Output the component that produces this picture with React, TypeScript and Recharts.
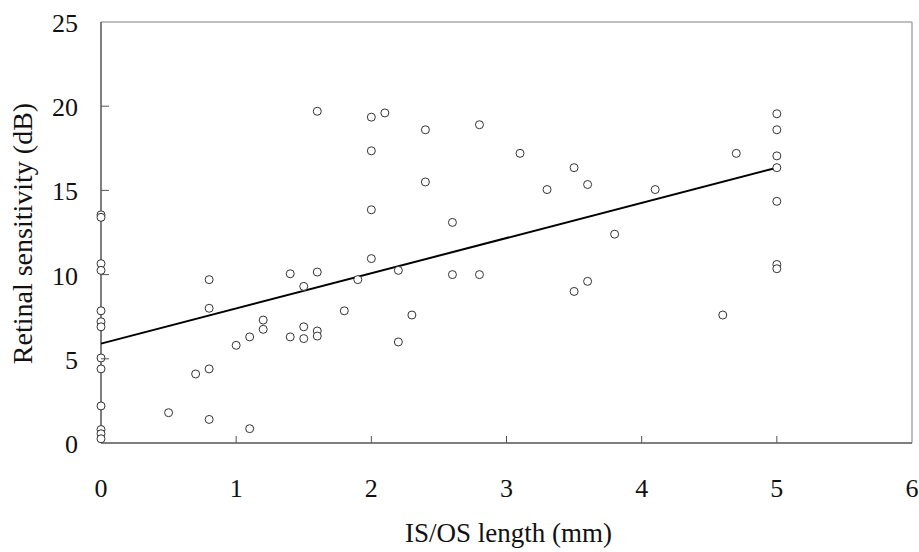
import { ScatterChart, Scatter, XAxis, YAxis, ReferenceLine, Label } from 'recharts';

const isosLength = [
  0, 0, 0, 0, 0, 0, 0, 0, 0, 0, 0, 0, 0,
  0.5, 0.7, 0.8, 0.8, 0.8, 0.8, 1.0, 1.1, 1.1, 1.2, 1.2,
  1.4, 1.4, 1.5, 1.5, 1.5, 1.6, 1.6, 1.6, 1.6, 1.8, 1.9,
  2.0, 2.0, 2.0, 2.0, 2.1, 2.2, 2.2, 2.3, 2.4, 2.4, 2.6, 2.6, 2.8, 2.8,
  3.1, 3.3, 3.5, 3.5, 3.6, 3.6, 3.8, 4.1, 4.6, 4.7,
  5, 5, 5, 5, 5, 5, 5,
];

const sensitivity = [
  13.55, 13.4, 10.65, 10.25, 7.85, 7.2, 6.9, 5.05, 4.4, 2.2, 0.8, 0.55, 0.25,
  1.8, 4.1, 9.7, 8.0, 4.4, 1.4, 5.8, 6.3, 0.85, 7.3, 6.75,
  10.05, 6.3, 9.3, 6.9, 6.2, 19.7, 10.15, 6.65, 6.35, 7.85, 9.7,
  19.35, 17.35, 13.85, 10.95, 19.6, 10.25, 6.0, 7.6, 18.6, 15.5, 13.1, 10.0, 18.9, 10.0,
  17.2, 15.05, 16.35, 9.0, 15.35, 9.6, 12.4, 15.05, 7.6, 17.2,
  19.55, 18.6, 17.05, 16.35, 14.35, 10.6, 10.35,
];

// regression line end points
const fitX = [0, 5];
const fitY = [5.9, 16.35];

const xTicks = [0, 1, 2, 3, 4, 5, 6];
const yTicks = [0, 5, 10, 15, 20, 25];

const points = isosLength.map((x, i) => ({ x, y: sensitivity[i] }));
const fitLine = fitX.map((x, i) => ({ x, y: fitY[i] }));

const FONT = '"Liberation Serif", "Times New Roman", serif';

// inward tick marks, labels well below the axis
const XTick = (props: any) => {
  const { x, y, payload } = props;
  return (
    <g>
      {payload.value > 0 && payload.value < 6 && (
        <line x1={x} x2={x} y1={y} y2={y - 7} stroke="#555" strokeWidth={1} />
      )}
      <text x={x} y={y + 54} textAnchor="middle" fontFamily={FONT} fontSize={26} fill="#111">
        {payload.value}
      </text>
    </g>
  );
};

const YTick = (props: any) => {
  const { x, y, payload } = props;
  return (
    <g>
      {payload.value > 0 && payload.value < 25 && (
        <line x1={x} x2={x + 8} y1={y} y2={y} stroke="#555" strokeWidth={1} />
      )}
      <text x={x - 23} y={y + 10} textAnchor="end" fontFamily={FONT} fontSize={26} fill="#111">
        {payload.value}
      </text>
    </g>
  );
};

const Circle = (props: any) => {
  const { cx, cy } = props;
  return <circle cx={cx} cy={cy} r={4} fill="#fff" stroke="#333" strokeWidth={1} />;
};

const XTitle = (props: any) => {
  const vb = props.viewBox;
  return (
    <text x={vb.x + vb.width / 2 + 2} y={vb.y + 99} textAnchor="middle" fontFamily={FONT} fontSize={27} fill="#111">
      IS/OS length (mm)
    </text>
  );
};

const YTitle = (props: any) => {
  const vb = props.viewBox;
  const cx = 32;
  const cy = vb.y + vb.height / 2 + 1;
  return (
    <text x={cx} y={cy} transform={`rotate(-90, ${cx}, ${cy})`} textAnchor="middle" fontFamily={FONT} fontSize={28} fill="#111">
      Retinal sensitivity (dB)
    </text>
  );
};

export default function App() {
  return (
    <div style={{ position: 'absolute', left: 0, top: 0, width: 919, height: 552, background: '#fff' }}>
      <ScatterChart width={919} height={552} margin={{ top: 22, right: 7, left: 0, bottom: 0 }}>
        <XAxis
          type="number"
          dataKey="x"
          domain={[0, 6]}
          ticks={xTicks}
          interval={0}
          height={109}
          tickSize={0}
          tickMargin={0}
          tickLine={false}
          tick={<XTick />}
          axisLine={{ stroke: '#555', strokeWidth: 1.5 }}
        >
          <Label content={<XTitle />} />
        </XAxis>
        <YAxis
          type="number"
          dataKey="y"
          domain={[0, 25]}
          ticks={yTicks}
          interval={0}
          width={101}
          tickSize={0}
          tickMargin={0}
          tickLine={false}
          tick={<YTick />}
          axisLine={{ stroke: '#555', strokeWidth: 1.5 }}
        >
          <Label content={<YTitle />} />
        </YAxis>
        <ReferenceLine y={25} stroke="#aaa" strokeWidth={1.5} />
        <ReferenceLine x={6} stroke="#aaa" strokeWidth={1.5} />
        <Scatter data={fitLine} line={{ stroke: '#000', strokeWidth: 2 }} shape={() => null} isAnimationActive={false} />
        <Scatter data={points} shape={<Circle />} isAnimationActive={false} />
      </ScatterChart>
    </div>
  );
}
